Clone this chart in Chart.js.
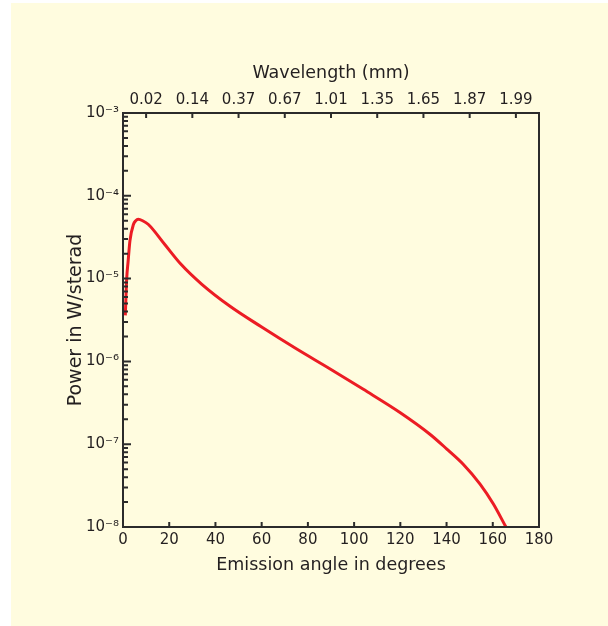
<!DOCTYPE html>
<html>
<head>
<meta charset="utf-8">
<script src="https://cdn.jsdelivr.net/npm/chart.js@4/dist/chart.umd.min.js"></script>
<style>
  html, body { margin: 0; padding: 0; background: #ffffff; }
  canvas { display: block; }
</style>
</head>
<body>
<canvas id="emission" width="608" height="626"></canvas>
<script>
// emission angle (deg) and power (W/sterad)
const angles = [1.0, 1.6, 2.2, 3.0, 4.5, 5.5, 6.6, 8.5, 11, 18, 25, 34, 46, 60, 75, 90, 104, 120, 132.8, 140, 147.3, 154.5, 160.2, 165.7];
const power = [3.6e-6, 1.0e-5, 1.6e-5, 2.86e-5, 4.5e-5, 5.0e-5, 5.2e-5, 5.0e-5, 4.5e-5, 2.6e-5, 1.5e-5, 8.6e-6, 4.7e-6, 2.6e-6, 1.42e-6, 8.0e-7, 4.6e-7, 2.4e-7, 1.32e-7, 8.8e-8, 5.7e-8, 3.3e-8, 1.91e-8, 1.0e-8];

// bottom axis ticks
const angleTicks = [0, 20, 40, 60, 80, 100, 120, 140, 160, 180];
// top axis: wavelength labels sit at these angles
const wavelengthAngles = [10, 30, 50, 70, 90, 110, 130, 150, 170];
const wavelengthLabels = ['0.02', '0.14', '0.37', '0.67', '1.01', '1.35', '1.65', '1.87', '1.99'];
// decades on the power axis
const powerDecades = [1e-8, 1e-7, 1e-6, 1e-5, 1e-4, 1e-3];

const SUP = { '-': '\u207B', '0': '\u2070', '1': '\u00B9', '2': '\u00B2', '3': '\u00B3', '4': '\u2074', '5': '\u2075', '6': '\u2076', '7': '\u2077', '8': '\u2078', '9': '\u2079' };
const pow10Label = v => '10' + String(Math.round(Math.log10(v))).split('').map(c => SUP[c]).join('');

Chart.defaults.font.family = "'DejaVu Sans', sans-serif";
Chart.defaults.color = '#231f20';

// beige panel + framed box with inward ticks
const frame = {
    id: 'frame',
    beforeDraw(chart) {
        const { ctx, width, height } = chart;
        ctx.save();
        ctx.fillStyle = '#ffffff';
        ctx.fillRect(0, 0, width, height);
        ctx.fillStyle = '#fffcdf';
        ctx.fillRect(11, 3, width - 11, height - 3);
        ctx.restore();
    },
    afterDraw(chart) {
        const { ctx, chartArea: a, scales } = chart;
        ctx.save();
        ctx.strokeStyle = '#2b2b2b';
        ctx.lineWidth = 2;
        ctx.beginPath();
        angleTicks.forEach(v => {
            const x = scales.x.getPixelForValue(v);
            ctx.moveTo(x, a.bottom);
            ctx.lineTo(x, a.bottom - 5);
        });
        wavelengthAngles.forEach(v => {
            const x = scales.x2.getPixelForValue(v);
            ctx.moveTo(x, a.top);
            ctx.lineTo(x, a.top + 5);
        });
        powerDecades.forEach((d, i) => {
            const y = scales.y.getPixelForValue(d);
            ctx.moveTo(a.left, y);
            ctx.lineTo(a.left + 8, y);
            if (i === powerDecades.length - 1) return;
            for (let m = 2; m <= 9; m++) {
                const ym = scales.y.getPixelForValue(m * d);
                ctx.moveTo(a.left, ym);
                ctx.lineTo(a.left + 5, ym);
            }
        });
        ctx.stroke();
        ctx.strokeRect(a.left, a.top, a.right - a.left, a.bottom - a.top);
        ctx.restore();
    }
};

new Chart(
    document.getElementById('emission'),
    {
        type: 'line',
        plugins: [frame],
        data: {
            datasets: [
                {
                    label: 'Power',
                    data: angles.map((a, i) => ({ x: a, y: power[i] })),
                    xAxisID: 'x',
                    yAxisID: 'y',
                    borderColor: '#ec1c24',
                    borderWidth: 3,
                    pointRadius: 0,
                    cubicInterpolationMode: 'monotone',
                    fill: false
                }
            ]
        },
        options: {
            responsive: false,
            animation: false,
            layout: { padding: { left: 0, top: 0, right: 69, bottom: 0 } },
            plugins: {
                legend: { display: false },
                tooltip: { enabled: false }
            },
            scales: {
                x: {
                    type: 'linear',
                    position: 'bottom',
                    min: 0,
                    max: 180,
                    grid: { display: false, drawTicks: false },
                    border: { display: false },
                    afterBuildTicks: s => { s.ticks = angleTicks.map(v => ({ value: v })); },
                    afterFit: s => { s.height = 99; },
                    ticks: { font: { size: 15 }, padding: 4, maxRotation: 0, autoSkip: false },
                    title: {
                        display: true,
                        text: 'Emission angle in degrees',
                        font: { size: 17.5 },
                        padding: { top: 0, bottom: 50 }
                    }
                },
                x2: {
                    type: 'linear',
                    axis: 'x',
                    position: 'top',
                    min: 0,
                    max: 180,
                    grid: { display: false, drawTicks: false },
                    border: { display: false },
                    afterBuildTicks: s => { s.ticks = wavelengthAngles.map(v => ({ value: v })); },
                    afterFit: s => { s.height = 113; },
                    ticks: {
                        font: { size: 15 },
                        padding: 4,
                        maxRotation: 0,
                        autoSkip: false,
                        callback: (v, i) => wavelengthLabels[i]
                    },
                    title: {
                        display: true,
                        text: 'Wavelength (mm)',
                        font: { size: 17.5 },
                        padding: { top: 63, bottom: 0 }
                    }
                },
                y: {
                    type: 'logarithmic',
                    min: 1e-8,
                    max: 1e-3,
                    grid: { display: false, drawTicks: false },
                    border: { display: false },
                    afterBuildTicks: s => { s.ticks = powerDecades.map(v => ({ value: v })); },
                    afterFit: s => { s.width = 123; },
                    ticks: {
                        font: { size: 15 },
                        padding: 4,
                        autoSkip: false,
                        callback: v => pow10Label(v)
                    },
                    title: {
                        display: true,
                        text: 'Power in W/sterad',
                        font: { size: 19 },
                        padding: { top: 65, bottom: 0 }
                    }
                }
            }
        }
    }
);
</script>
</body>
</html>
